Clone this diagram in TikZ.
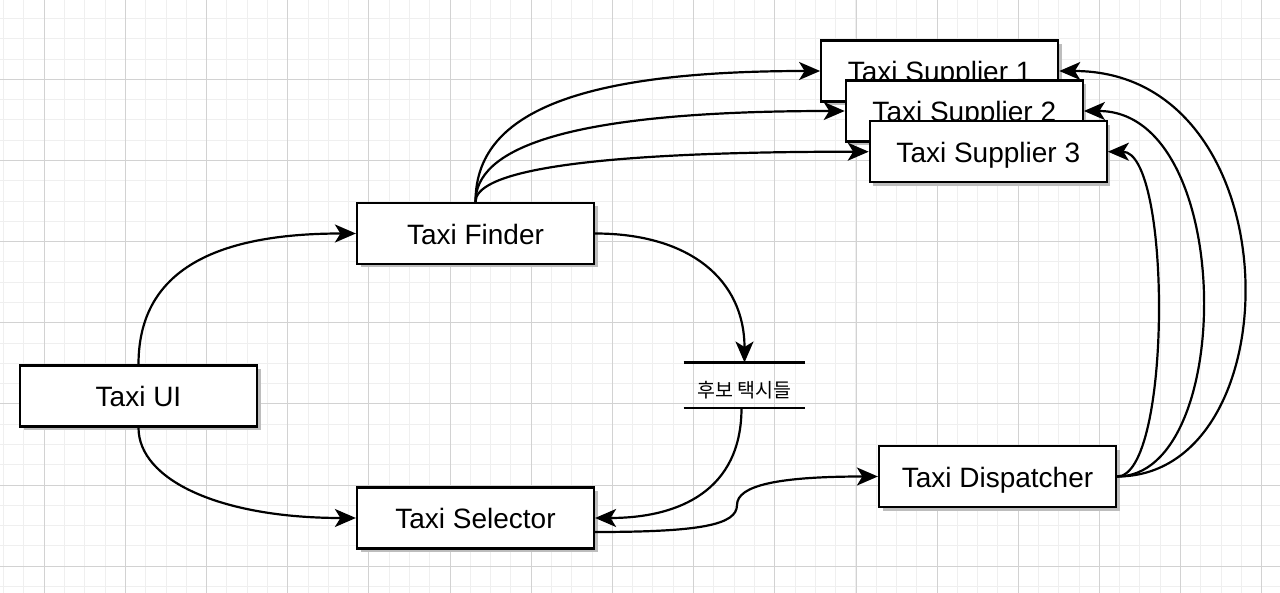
\documentclass[tikz,border=0pt]{standalone}
\usepackage{fontspec}
\setmainfont{Liberation Sans}
\newfontfamily\krfont{Noto Sans CJK KR}
\usetikzlibrary{arrows.meta,shadows,calc}
\definecolor{gridminor}{HTML}{EFEFEF}
\definecolor{gridmajor}{HTML}{D2D2D2}
\definecolor{shadowgray}{HTML}{BDBDBD}
\begin{document}
\begin{tikzpicture}[x=1pt,y=-1pt,
  box/.style={draw=black, line width=2.2pt, fill=white, minimum width=237pt, minimum height=61pt, inner sep=0pt,
    font=\fontsize{28}{30}\selectfont, text height=21.5pt, text depth=0pt,
    drop shadow={shadow xshift=3.5pt, shadow yshift=-3.5pt, fill=shadowgray, opacity=1}},
  conn/.style={line width=2.2pt, -{Stealth[length=21pt,width=18pt,inset=5.5pt]}},
  minorline/.style={draw=gridminor, line width=1pt},
  majorline/.style={draw=gridmajor, line width=1pt},
  storeline/.style={line width=2.2pt},
]
\useasboundingbox (0,0) rectangle (1280,593);
\fill[white] (0,0) rectangle (1280,593);
% grid
\foreach \i in {0,...,63} \draw[minorline] ({3.7+20.29*\i},0) -- ({3.7+20.29*\i},593);
\foreach \i in {1,...,29} \draw[minorline] (0,{-1.86+20.29*\i}) -- (1280,{-1.86+20.29*\i});
\foreach \i in {0,...,15} \draw[majorline] ({44.3+81.17*\i},0) -- ({44.3+81.17*\i},593);
\foreach \i in {0,...,6} \draw[majorline] (0,{79.3+81.17*\i}) -- (1280,{79.3+81.17*\i});

% nodes
\node[box] (ui) at (138.5,396) {Taxi UI};
\node[box] (finder) at (475.5,233.5) {Taxi Finder};
\node[box] (sel) at (475.5,518) {Taxi Selector};
\node[box] (disp) at (997.5,476.5) {Taxi Dispatcher};
\node[box] (s1) at (939.7,71) {Taxi Supplier 1};
\node[box] (s2) at (964.3,111) {Taxi Supplier 2};
\node[box] (s3) at (988.3,151.7) {Taxi Supplier 3};

% data store
\node[minimum width=121.5pt, minimum height=45pt, inner sep=0pt] (store) at (744.5,385.2) {};
\draw[storeline] (store.north west) -- (store.north east);
\draw[storeline] (store.south west) -- (store.south east);
\node[font=\krfont\fontsize{19.5}{21}\selectfont, inner sep=0pt] (storelabel) at (744.5,390.5) {후보 택시들};

% connectors
\draw[conn] (ui.north) .. controls (138.5,280) and (200,233.5) .. (finder.west);
\draw[conn] (ui.south) .. controls (138.5,480) and (220,518) .. (sel.west);
\draw[conn] (finder.east) .. controls (690,233.5) and (744.5,280) .. (store.north);
\draw[conn] ($(store.south)+(-3,0)$) .. controls (741.5,490) and (680,518) .. (sel.east);
\draw[conn] ($(sel.east)+(0,14)$) .. controls (700,532) and (737,525) .. (737,505)
   .. controls (737,485) and (780,476.5) .. (disp.west);

\draw[conn] (finder.north) .. controls (475.5,120) and (560,71) .. (s1.west);
\draw[conn] (finder.north) .. controls (475.5,150) and (560,111) .. (s2.west);
\draw[conn] (finder.north) .. controls (475.5,175) and (560,151.7) .. (s3.west);

\draw[conn] (disp.east) .. controls (1172,476.5) and (1172,151.7) .. (s3.east);
\draw[conn] (disp.east) .. controls (1236,476.5) and (1236,111) .. (s2.east);
\draw[conn] (disp.east) .. controls (1295,476.5) and (1295,71) .. (s1.east);
\end{tikzpicture}
\end{document}
